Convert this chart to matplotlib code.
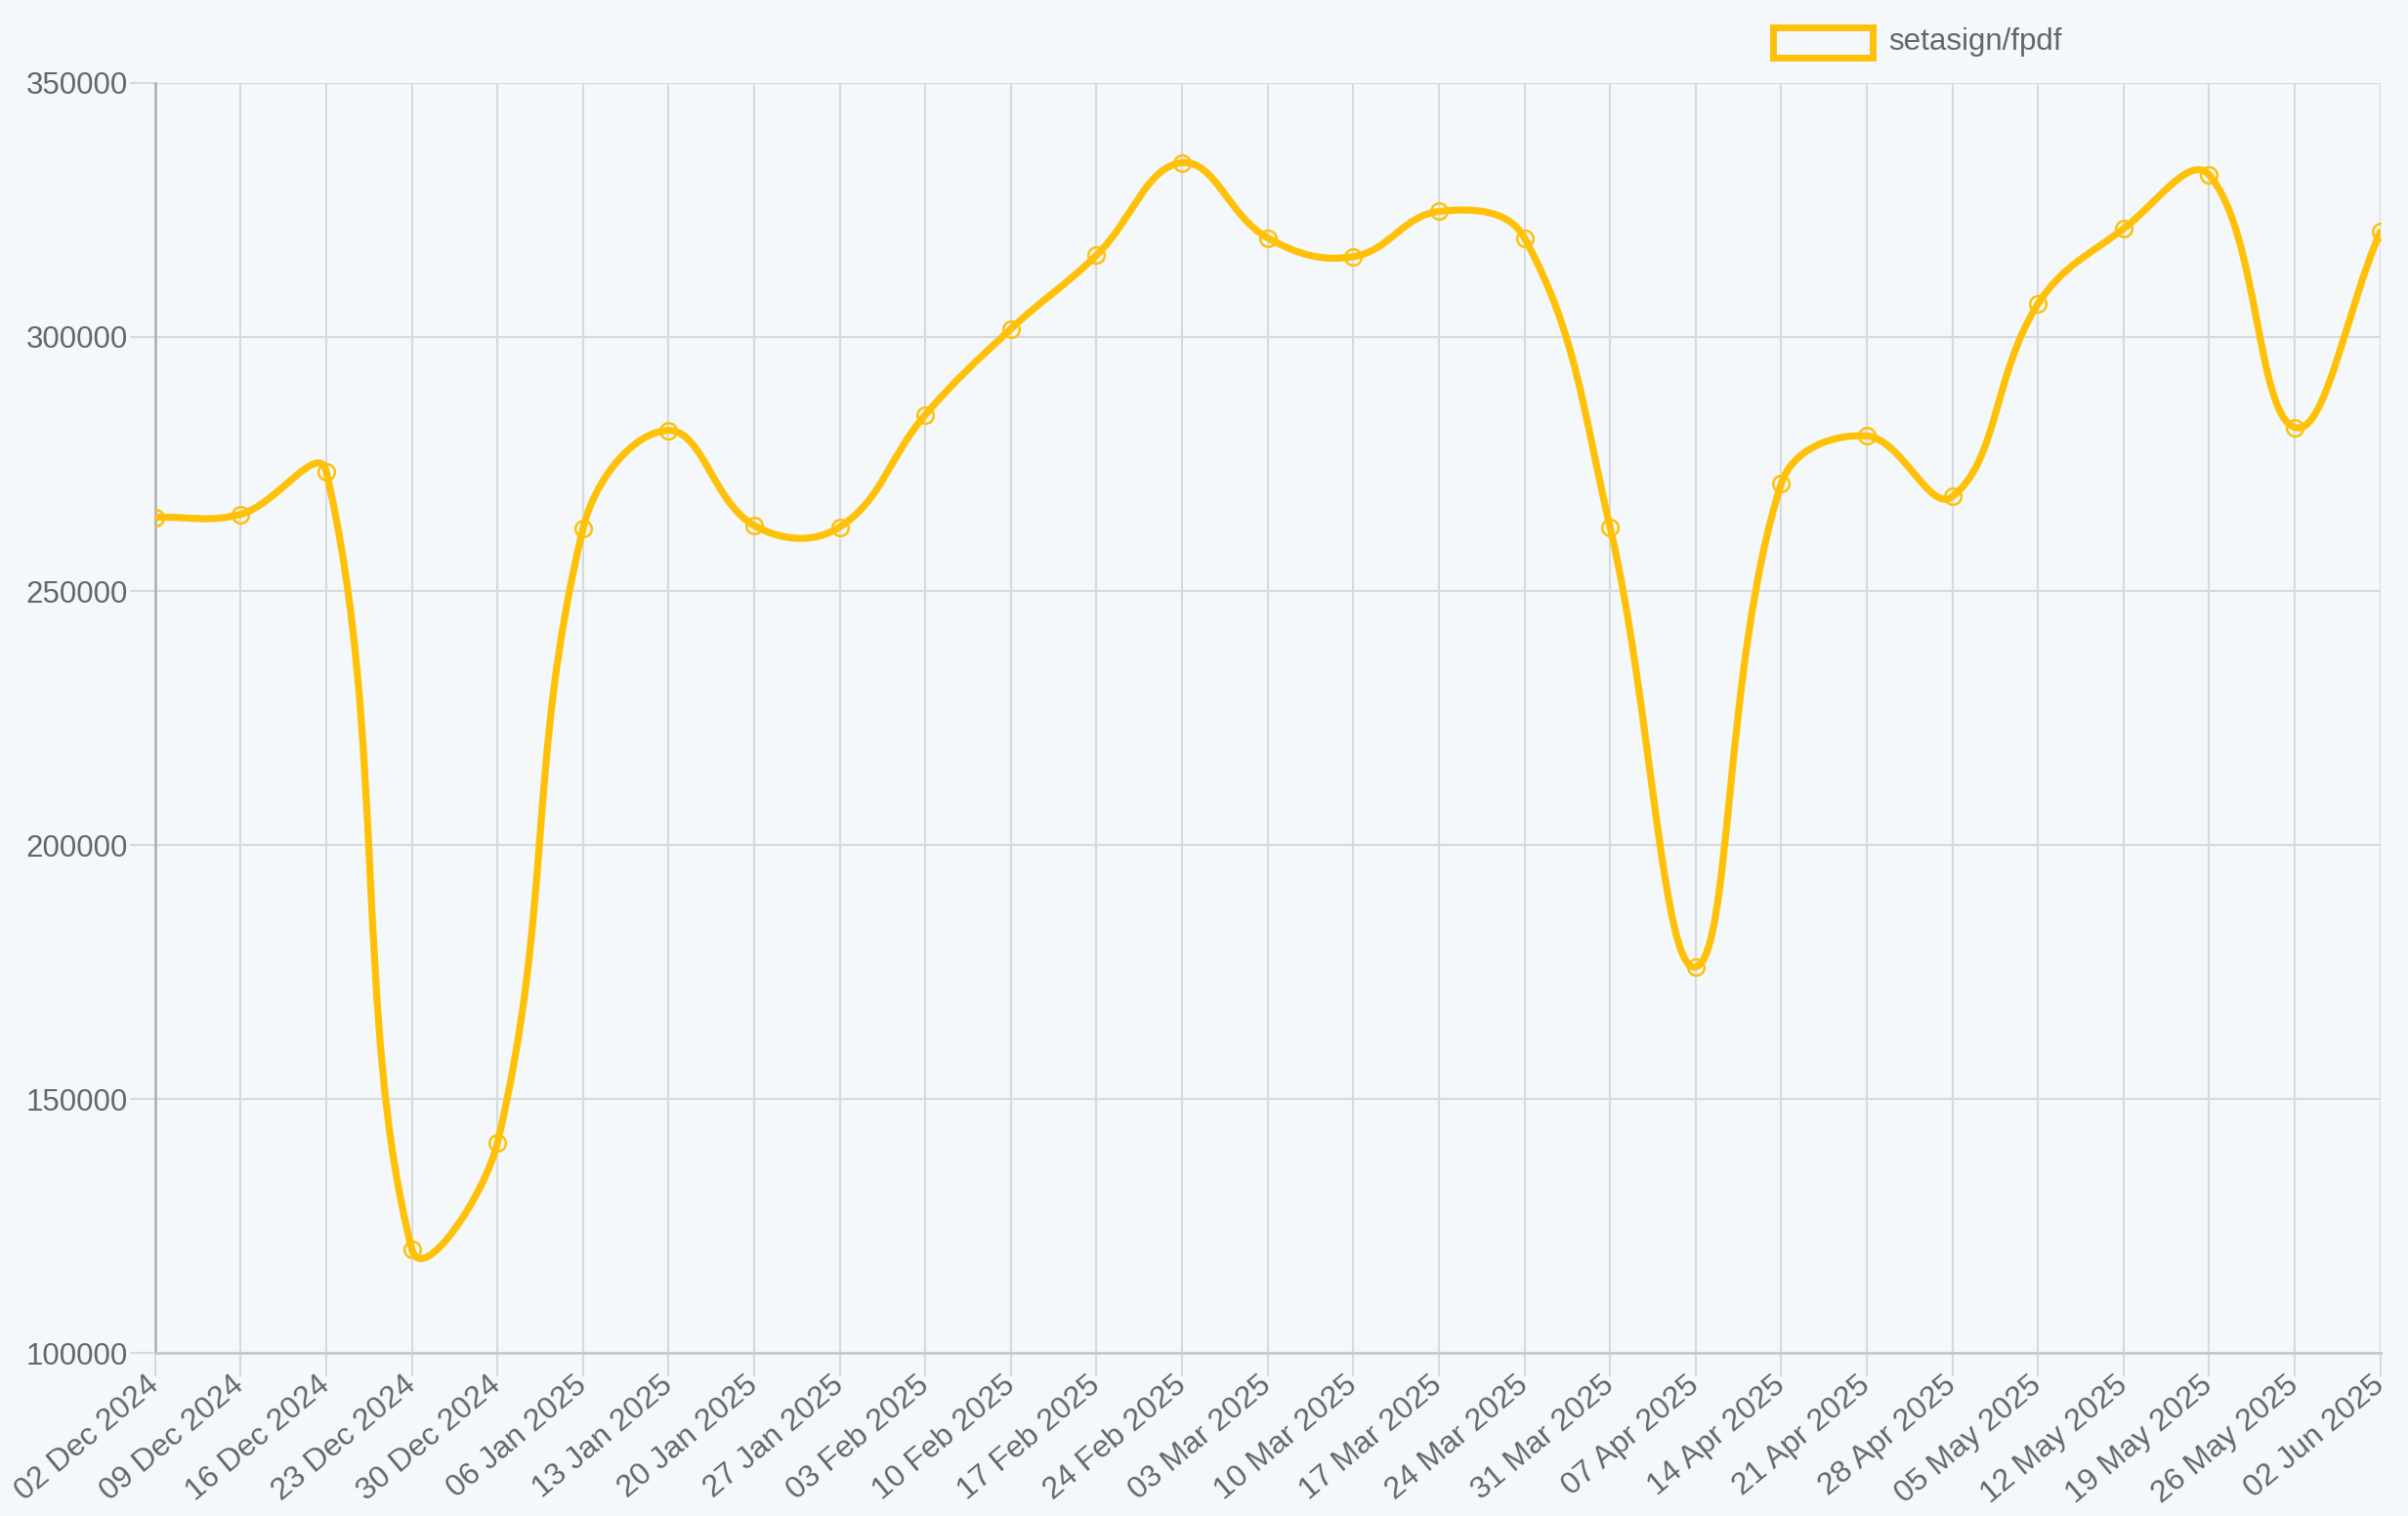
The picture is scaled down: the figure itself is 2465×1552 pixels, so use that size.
import numpy as np
import matplotlib
matplotlib.use("Agg")
import matplotlib.pyplot as plt
from matplotlib.path import Path
from matplotlib.patches import PathPatch, Rectangle

# ---- data ----
labels = ["02 Dec 2024", "09 Dec 2024", "16 Dec 2024", "23 Dec 2024", "30 Dec 2024",
          "06 Jan 2025", "13 Jan 2025", "20 Jan 2025", "27 Jan 2025", "03 Feb 2025",
          "10 Feb 2025", "17 Feb 2025", "24 Feb 2025", "03 Mar 2025", "10 Mar 2025",
          "17 Mar 2025", "24 Mar 2025", "31 Mar 2025", "07 Apr 2025", "14 Apr 2025",
          "21 Apr 2025", "28 Apr 2025", "05 May 2025", "12 May 2025", "19 May 2025",
          "26 May 2025", "02 Jun 2025"]
values = [264500, 265100, 273500, 120500, 141400,
          262300, 281600, 262900, 262600, 284700,
          301600, 316100, 334300, 319500, 315800,
          324700, 319500, 262600, 176000, 271100,
          280500, 268600, 306500, 321300, 331900,
          282200, 320700]
series_name = "setasign/fpdf"
y_ticks = [100000, 150000, 200000, 250000, 300000, 350000]

# ---- style ----
bg = "#f4f8fb"
amber = "#ffc107"
txt = "#666666"
grid_c = "#d6dade"
plt.rcParams['font.family'] = ['Liberation Sans', 'DejaVu Sans']

fig = plt.figure(figsize=(24.65, 15.52), dpi=100, facecolor=bg)
L, R, B, T = 0.0644, 0.9885, 0.1074, 0.9453
ax = fig.add_axes([L, B, R - L, T - B])
ax.set_facecolor(bg)

n = len(values)
x = np.arange(n)
y = np.array(values, dtype=float)
ax.set_xlim(0, n - 1)
ax.set_ylim(y_ticks[0], y_ticks[-1])

# Chart.js-style bezier spline (tension 0.4) computed in pixel space
tension = 0.4
pts = ax.transData.transform(np.column_stack([x, y]))
bbox = ax.bbox
cp_prev = np.zeros_like(pts)
cp_next = np.zeros_like(pts)
for i in range(n):
    p0 = pts[i - 1] if i > 0 else pts[i]
    p1 = pts[i]
    p2 = pts[i + 1] if i < n - 1 else pts[i]
    d01 = np.hypot(*(p1 - p0))
    d12 = np.hypot(*(p2 - p1))
    tot = d01 + d12
    s01 = d01 / tot if tot else 0
    s12 = d12 / tot if tot else 0
    fa = tension * s01
    fb = tension * s12
    cp_prev[i] = p1 - fa * (p2 - p0)
    cp_next[i] = p1 + fb * (p2 - p0)
for arr in (cp_prev, cp_next):
    arr[:, 0] = np.clip(arr[:, 0], bbox.x0, bbox.x1)
    arr[:, 1] = np.clip(arr[:, 1], bbox.y0, bbox.y1)

verts = [pts[0]]
codes = [Path.MOVETO]
for i in range(n - 1):
    verts += [cp_next[i], cp_prev[i + 1], pts[i + 1]]
    codes += [Path.CURVE4] * 3
inv = ax.transData.inverted()
verts_data = inv.transform(np.array(verts))
path = Path(verts_data, codes)
ax.add_patch(PathPatch(path, facecolor="none", edgecolor=amber, lw=5.2,
                       capstyle="round", joinstyle="round", zorder=3))
ax.plot(x, y, linestyle="none", marker="o", markersize=12, markerfacecolor="none",
        markeredgecolor=amber, markeredgewidth=1.8, zorder=4)

# grid & axes
ax.set_xticks(x)
ax.set_xticklabels(labels, rotation=40, ha="right", va="center", rotation_mode="anchor",
                   fontsize=23, color=txt)
ax.set_yticks(y_ticks)
ax.set_yticklabels([str(v) for v in y_ticks], fontsize=22.5, color=txt)
ax.grid(True, color=grid_c, lw=1.5)
ax.set_axisbelow(True)
ax.tick_params(axis="x", length=17, width=1.5, color=grid_c, pad=4)
ax.tick_params(axis="y", length=19, width=1.5, color=grid_c, pad=1)
for s in ["top", "right"]:
    ax.spines[s].set_visible(False)
ax.spines["left"].set_color("#a9adb1")
ax.spines["left"].set_linewidth(1.8)
ax.spines["bottom"].set_color("#c5c9cd")
ax.spines["bottom"].set_linewidth(2)

# legend
fig.patches.append(Rectangle((0.7365, 0.9622), 0.0410, 0.0195, transform=fig.transFigure,
                             facecolor="none", edgecolor=amber, lw=5, figure=fig))
fig.text(0.7844, 0.9721, series_name, fontsize=22.5, color=txt, ha="left", va="center")

fig.savefig("out.png", dpi=100, facecolor=bg)
